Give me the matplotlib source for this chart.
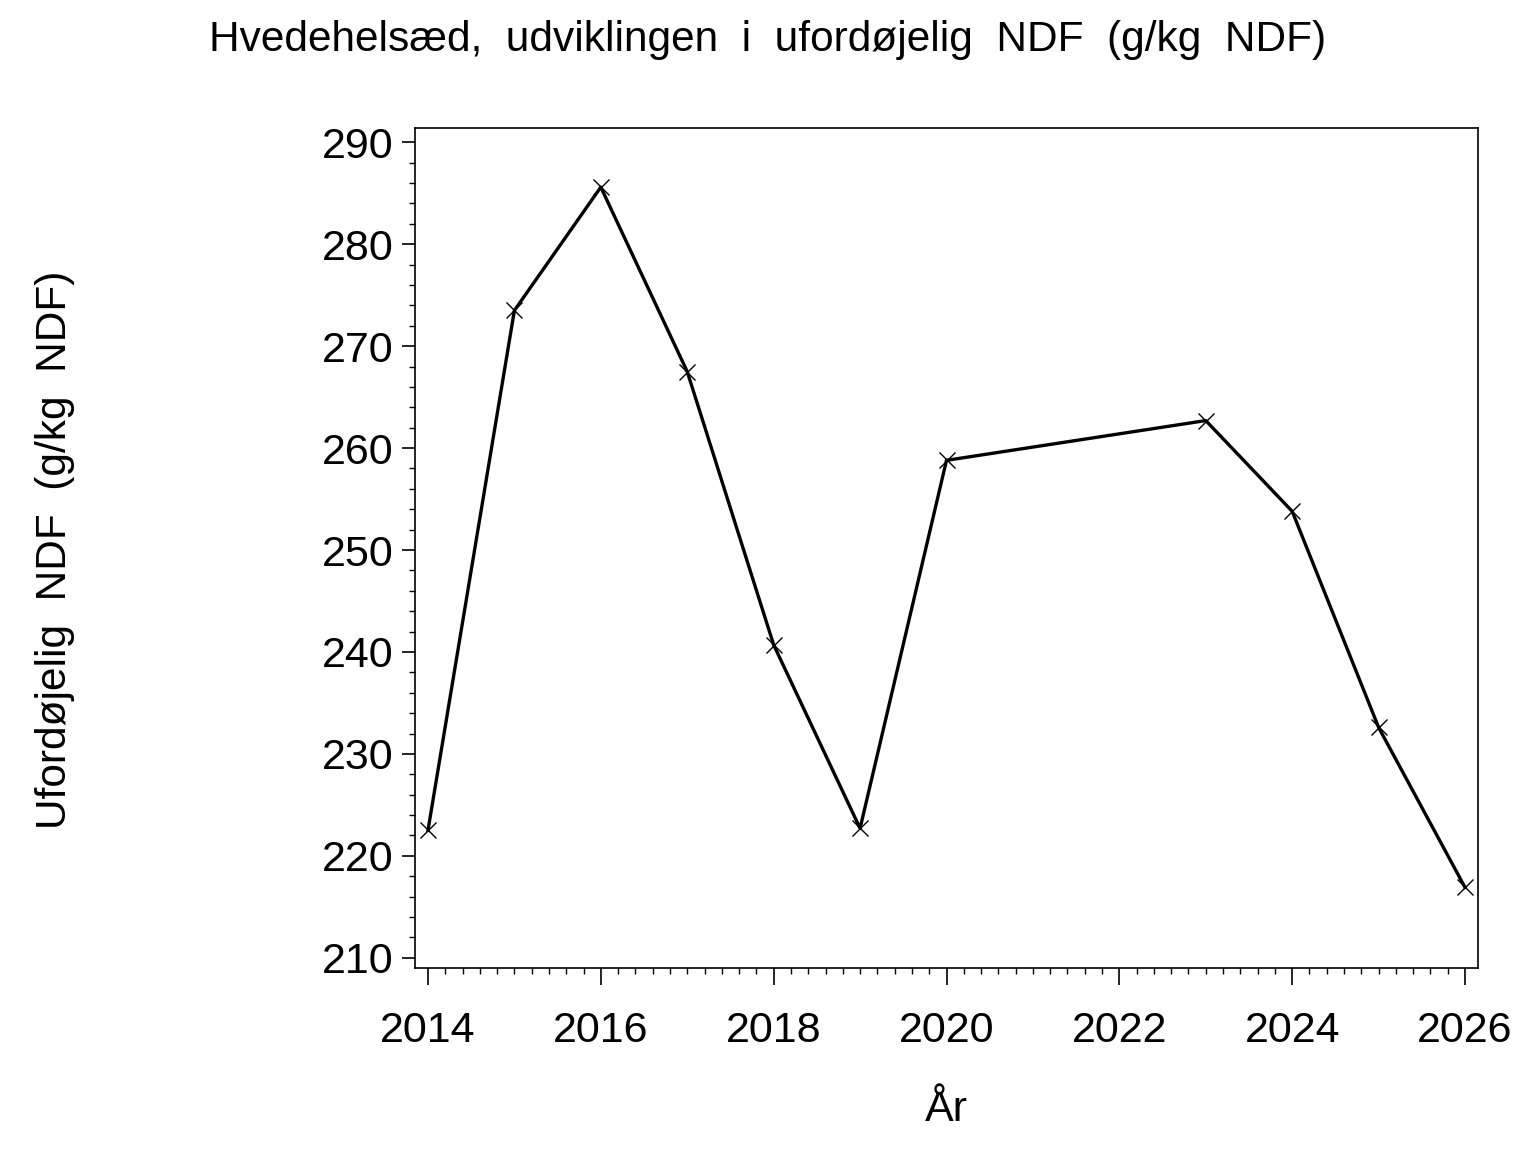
import matplotlib.pyplot as plt
from matplotlib.ticker import MultipleLocator

# Data
years = [2014, 2015, 2016, 2017, 2018, 2019, 2020, 2023, 2024, 2025, 2026]
indf = [222.5, 273.5, 285.6, 267.5, 240.7, 222.7, 258.8, 262.7, 253.8, 232.6, 216.9]

plt.rcParams['font.family'] = ['Liberation Sans', 'DejaVu Sans']

fig = plt.figure(figsize=(15.36, 11.52), dpi=100)
ax = fig.add_axes([415 / 1536, 1 - 968 / 1152, (1478 - 415) / 1536, (968 - 128) / 1152])

ax.plot(years, indf, color='black', linewidth=2.4, marker='x',
        markersize=11, markeredgewidth=1.0)

ax.set_xlim(2013.85, 2026.15)
ax.set_ylim(209.0, 291.4)
ax.xaxis.set_major_locator(MultipleLocator(2))
ax.xaxis.set_minor_locator(MultipleLocator(0.2))
ax.yaxis.set_major_locator(MultipleLocator(10))
ax.yaxis.set_minor_locator(MultipleLocator(2))

ax.tick_params(axis='both', which='major', direction='out', width=1.2, labelsize=31)
ax.tick_params(axis='both', which='minor', direction='out', length=4.5, width=1.0)
ax.tick_params(axis='x', which='major', length=12, pad=19)
ax.tick_params(axis='y', which='major', length=9.5, pad=6)
for s in ax.spines.values():
    s.set_linewidth(1.2)

fig.text(0.5, 1 - 40 / 1152, 'Hvedehelsæd,  udviklingen  i  ufordøjelig  NDF  (g/kg  NDF)',
         ha='center', va='center', fontsize=30.5)
fig.text(946 / 1536, 1 - 1110 / 1152, 'År', ha='center', va='center', fontsize=31)
fig.text(55 / 1536, 1 - 550 / 1152, 'Ufordøjelig  NDF  (g/kg  NDF)', ha='center',
         va='center', rotation=90, fontsize=30.5)

fig.savefig('out.png', dpi=100)
